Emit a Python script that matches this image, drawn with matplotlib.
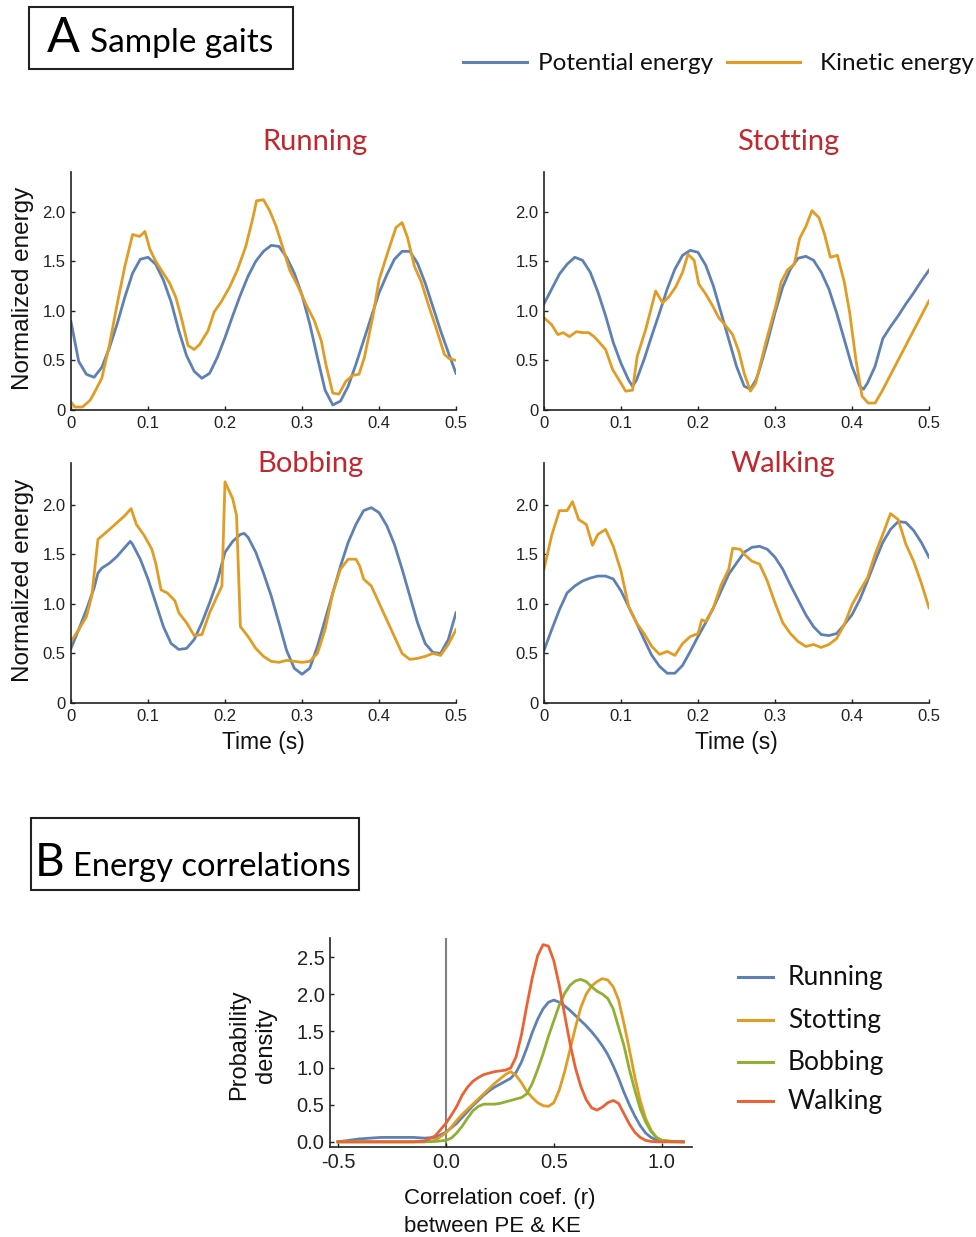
import matplotlib
matplotlib.use('Agg')
import matplotlib.pyplot as plt
from matplotlib.patches import Rectangle
from matplotlib.lines import Line2D

# ---------------- DATA ----------------
# Panel A: normalized energies vs time (s)
run_pe_t = [0,0.01,0.02,0.03,0.04,0.05,0.06,0.07,0.08,0.09,0.10,0.11,0.12,0.13,0.14,0.15,0.16,0.17,0.18,0.19,0.20,
            0.21,0.22,0.23,0.24,0.25,0.26,0.27,0.28,0.29,0.30,0.31,0.32,0.33,0.34,0.35,0.36,0.37,0.38,0.39,0.40,
            0.41,0.42,0.43,0.44,0.45,0.46,0.47,0.48,0.49,0.50]
run_pe_v = [0.89,0.49,0.36,0.33,0.43,0.63,0.87,1.14,1.38,1.52,1.54,1.47,1.31,1.09,0.80,0.55,0.39,0.32,0.37,0.53,0.73,
            0.95,1.16,1.35,1.50,1.60,1.66,1.65,1.54,1.38,1.16,0.87,0.53,0.20,0.05,0.09,0.24,0.46,0.70,0.94,1.18,
            1.36,1.52,1.60,1.60,1.48,1.28,1.04,0.80,0.58,0.37]
run_ke_t = [0,0.005,0.015,0.025,0.03,0.04,0.05,0.06,0.07,0.08,0.089,0.096,0.1025,0.11,0.128,0.136,0.143,0.152,0.16,
            0.167,0.178,0.186,0.195,0.206,0.216,0.227,0.236,0.241,0.25,0.258,0.266,0.275,0.284,0.294,0.305,0.316,
            0.325,0.331,0.34,0.348,0.357,0.366,0.374,0.381,0.392,0.40,0.411,0.422,0.43,0.437,0.446,0.455,0.465,
            0.474,0.485,0.491,0.50]
run_ke_v = [0.08,0.03,0.03,0.10,0.17,0.32,0.66,1.07,1.45,1.77,1.75,1.80,1.62,1.50,1.28,1.14,0.94,0.65,0.61,
            0.66,0.80,0.99,1.09,1.24,1.41,1.65,1.93,2.11,2.12,2.01,1.86,1.64,1.41,1.26,1.07,0.90,
            0.70,0.46,0.17,0.16,0.29,0.35,0.36,0.53,0.94,1.31,1.58,1.84,1.89,1.74,1.45,1.29,1.04,
            0.83,0.56,0.52,0.50]

stot_pe_t = [0,0.01,0.02,0.03,0.04,0.05,0.06,0.07,0.08,0.09,0.10,0.11,0.115,0.12,0.13,0.14,0.15,0.16,0.17,0.18,0.19,
             0.20,0.21,0.22,0.23,0.24,0.25,0.26,0.268,0.275,0.28,0.29,0.30,0.31,0.32,0.33,0.34,0.35,0.36,0.37,0.38,
             0.39,0.40,0.41,0.415,0.42,0.43,0.44,0.45,0.46,0.47,0.48,0.49,0.50]
stot_pe_v = [1.07,1.22,1.37,1.47,1.54,1.51,1.39,1.19,0.95,0.68,0.47,0.30,0.24,0.30,0.51,0.75,0.98,1.22,1.42,1.56,1.61,
             1.59,1.46,1.25,0.98,0.71,0.44,0.24,0.21,0.30,0.41,0.68,0.98,1.24,1.42,1.53,1.55,1.51,1.39,1.22,0.98,
             0.71,0.44,0.24,0.21,0.27,0.44,0.72,0.84,0.95,1.07,1.18,1.30,1.41]
stot_ke_t = [0,0.01,0.018,0.025,0.033,0.042,0.05,0.058,0.065,0.071,0.08,0.089,0.10,0.106,0.115,0.121,0.132,0.139,0.145,
             0.154,0.162,0.171,0.18,0.187,0.195,0.201,0.21,0.219,0.227,0.236,0.245,0.253,0.26,0.268,0.275,0.288,
             0.301,0.308,0.316,0.325,0.332,0.34,0.348,0.357,0.364,0.372,0.381,0.39,0.397,0.405,0.413,0.421,0.43,
             0.439,0.50]
stot_ke_v = [0.93,0.86,0.76,0.78,0.74,0.79,0.78,0.78,0.74,0.69,0.61,0.41,0.27,0.19,0.20,0.54,0.81,1.02,1.20,
             1.08,1.14,1.24,1.39,1.57,1.51,1.27,1.17,1.05,0.93,0.85,0.76,0.59,0.37,0.19,0.27,0.68,
             1.05,1.29,1.41,1.47,1.73,1.85,2.01,1.94,1.78,1.54,1.56,1.29,0.98,0.51,0.14,0.07,0.07,
             0.19,1.10]

bob_pe_t = [0,0.01,0.02,0.03,0.035,0.04,0.05,0.06,0.07,0.077,0.08,0.09,0.10,0.11,0.12,0.13,0.14,0.15,0.16,0.17,0.18,
            0.19,0.20,0.21,0.22,0.225,0.23,0.24,0.25,0.26,0.27,0.28,0.29,0.30,0.31,0.32,0.33,0.34,0.35,0.36,0.37,
            0.38,0.39,0.40,0.41,0.42,0.43,0.44,0.45,0.46,0.47,0.48,0.49,0.50]
bob_pe_v = [0.55,0.74,0.94,1.16,1.31,1.36,1.41,1.48,1.57,1.63,1.60,1.45,1.25,1.01,0.77,0.60,0.54,0.55,0.64,0.81,1.01,
            1.23,1.52,1.63,1.70,1.71,1.67,1.52,1.31,1.08,0.81,0.53,0.35,0.29,0.35,0.57,0.84,1.11,1.38,1.62,1.80,
            1.94,1.97,1.92,1.79,1.60,1.35,1.08,0.81,0.60,0.51,0.50,0.64,0.91]
bob_ke_t = [0,0.01,0.02,0.027,0.035,0.05,0.06,0.07,0.078,0.085,0.095,0.105,0.11,0.117,0.125,0.135,0.14,0.15,0.16,
            0.17,0.18,0.19,0.196,0.20,0.21,0.215,0.22,0.23,0.24,0.25,0.26,0.27,0.28,0.29,0.30,0.31,0.32,0.33,
            0.34,0.35,0.36,0.37,0.375,0.38,0.39,0.40,0.41,0.42,0.43,0.44,0.45,0.46,0.47,0.48,0.49,0.50]
bob_ke_v = [0.62,0.74,0.87,1.08,1.65,1.75,1.82,1.89,1.96,1.80,1.69,1.55,1.41,1.14,1.11,1.03,0.91,0.81,0.68,
            0.69,0.91,1.08,1.18,2.23,2.06,1.89,0.77,0.67,0.55,0.47,0.42,0.41,0.43,0.42,0.41,0.42,0.50,0.74,
            1.11,1.35,1.45,1.45,1.38,1.25,1.18,1.01,0.84,0.67,0.50,0.44,0.45,0.47,0.50,0.48,0.59,0.74]

walk_pe_t = run_pe_t
walk_pe_v = [0.53,0.74,0.94,1.11,1.18,1.23,1.26,1.28,1.28,1.25,1.13,0.97,0.81,0.64,0.48,0.37,0.30,0.30,0.38,0.52,0.67,
             0.81,0.96,1.13,1.30,1.41,1.52,1.57,1.58,1.55,1.47,1.35,1.19,1.04,0.89,0.77,0.69,0.68,0.70,0.79,0.89,
             1.04,1.23,1.43,1.62,1.75,1.83,1.82,1.74,1.62,1.47]
walk_ke_t = [0,0.01,0.02,0.03,0.037,0.045,0.055,0.063,0.07,0.08,0.09,0.10,0.11,0.12,0.13,0.14,0.15,0.16,0.17,0.18,
             0.19,0.20,0.205,0.21,0.22,0.23,0.24,0.245,0.255,0.26,0.27,0.28,0.29,0.30,0.31,0.32,0.33,0.34,0.35,
             0.36,0.37,0.38,0.39,0.40,0.41,0.42,0.43,0.44,0.45,0.46,0.47,0.48,0.49,0.50]
walk_ke_v = [1.35,1.69,1.94,1.94,2.03,1.85,1.80,1.59,1.70,1.75,1.58,1.33,0.97,0.81,0.70,0.57,0.49,0.52,0.48,0.60,
             0.67,0.70,0.84,0.82,0.96,1.19,1.35,1.56,1.55,1.50,1.43,1.40,1.23,1.01,0.81,0.70,0.62,0.57,0.59,
             0.56,0.59,0.65,0.79,0.99,1.13,1.26,1.50,1.70,1.91,1.85,1.60,1.43,1.21,0.96]

gait_titles = ['Running', 'Stotting', 'Bobbing', 'Walking']
energy_labels = ['Potential energy', 'Kinetic energy']
a_xticks = [0, 0.1, 0.2, 0.3, 0.4, 0.5]
a_xticklabels = ['0', '0.1', '0.2', '0.3', '0.4', '0.5']
a_yticks = [0, 0.5, 1.0, 1.5, 2.0]
a_yticklabels = ['0', '0.5', '1.0', '1.5', '2.0']

# Panel B: probability density of correlation coefficient
r_grid = [-0.5,-0.45,-0.4,-0.35,-0.3,-0.25,-0.2,-0.15,-0.1,-0.05,
          0.0,0.025,0.05,0.075,0.1,0.125,0.15,0.175,0.2,0.225,0.25,0.275,0.3,0.325,0.35,0.375,0.4,0.425,0.45,0.475,
          0.5,0.525,0.55,0.575,0.6,0.625,0.65,0.675,0.7,0.725,0.75,0.775,0.8,0.825,0.85,0.875,0.9,0.925,0.95,0.975,
          1.0,1.05,1.1]
dens_running = [0.0,0.02,0.04,0.05,0.06,0.06,0.06,0.06,0.05,0.06,
                0.13,0.19,0.25,0.33,0.41,0.49,0.56,0.63,0.69,0.74,0.78,0.82,0.86,0.94,1.08,1.27,1.48,1.66,1.80,1.89,
                1.92,1.89,1.84,1.78,1.71,1.64,1.57,1.49,1.40,1.30,1.18,1.03,0.86,0.67,0.50,0.35,0.22,0.12,0.06,0.025,
                0.01,0.0,0.0]
dens_stotting = [0.0,0.0,0.0,0.0,0.0,0.0,0.0,0.0,0.0,0.02,
                 0.12,0.20,0.29,0.37,0.44,0.51,0.58,0.65,0.72,0.79,0.85,0.91,0.95,0.90,0.80,0.68,0.60,0.53,0.49,0.48,
                 0.53,0.70,0.95,1.25,1.55,1.82,2.00,2.11,2.17,2.21,2.19,2.10,1.92,1.60,1.25,0.88,0.56,0.32,0.16,0.06,
                 0.02,0.005,0.0]
dens_bobbing = [0.0,0.0,0.0,0.0,0.0,0.0,0.0,0.0,0.0,0.005,
                0.02,0.05,0.12,0.21,0.32,0.42,0.48,0.51,0.51,0.51,0.52,0.54,0.56,0.58,0.60,0.65,0.79,0.98,1.19,1.43,
                1.64,1.85,2.01,2.12,2.18,2.20,2.17,2.10,2.04,2.00,1.94,1.80,1.55,1.30,0.98,0.70,0.45,0.27,0.14,0.06,
                0.02,0.005,0.0]
dens_walking = [0.0,0.0,0.0,0.0,0.0,0.0,0.0,0.0,0.01,0.08,
                0.25,0.36,0.48,0.63,0.74,0.82,0.87,0.91,0.93,0.95,0.96,0.97,1.00,1.15,1.45,1.85,2.22,2.52,2.67,2.65,
                2.45,2.12,1.72,1.33,1.00,0.75,0.57,0.46,0.43,0.47,0.53,0.56,0.52,0.38,0.24,0.13,0.06,0.02,0.005,0.0,
                0.0,0.0,0.0]
b_labels = ['Running', 'Stotting', 'Bobbing', 'Walking']
b_xticks = [-0.5, 0.0, 0.5, 1.0]
b_xticklabels = ['-0.5', '0.0', '0.5', '1.0']
b_yticks = [0.0, 0.5, 1.0, 1.5, 2.0, 2.5]
b_yticklabels = ['0.0', '0.5', '1.0', '1.5', '2.0', '2.5']

# ---------------- STYLE ----------------
W, H = 976, 1237
BLUE = '#5E81B5'; ORANGE = '#E19C24'; GREEN = '#8FB032'; RED = '#EB6235'
TITLE_RED = '#C1272D'
TF = ['Lato', 'DejaVu Sans']
AF = ['Liberation Sans', 'DejaVu Sans']
plt.rcParams['font.family'] = AF

fig = plt.figure(figsize=(W / 100, H / 100), dpi=100)

def fx(x): return x / W
def fy(y): return 1 - y / H

def make_ax(l, t, r, b, lsize):
    ax = fig.add_axes([fx(l), fy(b), (r - l) / W, (b - t) / H])
    for s in ['top', 'right']:
        ax.spines[s].set_visible(False)
    for s in ['left', 'bottom']:
        ax.spines[s].set_color('#222222')
        ax.spines[s].set_linewidth(1.2)
    ax.tick_params(direction='in', length=3, width=1, labelsize=lsize, pad=4, colors='#222222')
    return ax

boxes = [(71, 172, 456, 410, 2.4), (544, 172, 929, 410, 2.4),
         (71, 463, 456, 703, 2.42), (544, 463, 929, 703, 2.42)]
series = [(run_pe_t, run_pe_v, run_ke_t, run_ke_v),
          (stot_pe_t, stot_pe_v, stot_ke_t, stot_ke_v),
          (bob_pe_t, bob_pe_v, bob_ke_t, bob_ke_v),
          (walk_pe_t, walk_pe_v, walk_ke_t, walk_ke_v)]
title_pos = [(315, 150), (788, 150), (310, 472), (783, 472)]

for i, ((l, t, r, b, ytop), (pt, pv, kt, kv)) in enumerate(zip(boxes, series)):
    ax = make_ax(l, t, r, b, 12)
    ax.plot(pt, pv, color=BLUE, lw=2.0, solid_joinstyle='round')
    ax.plot(kt, kv, color=ORANGE, lw=2.0, solid_joinstyle='round')
    ax.set_xlim(0, 0.5)
    ax.set_ylim(0, ytop)
    ax.set_xticks(a_xticks)
    ax.set_xticklabels(a_xticklabels)
    ax.set_yticks(a_yticks)
    ax.set_yticklabels(a_yticklabels)
    if i % 2 == 0:
        ax.set_ylabel('Normalized energy', fontsize=17.5, color='#111111')
        ax.yaxis.set_label_coords((34 - l) / (r - l), 0.51)
    if i >= 2:
        ax.set_xlabel('Time (s)', fontsize=16.5, color='#111111')
        ax.xaxis.set_label_coords(0.5, (b - 731) / (b - t))
    fig.text(fx(title_pos[i][0]), fy(title_pos[i][1]), gait_titles[i], color=TITLE_RED,
             fontsize=21, family=TF, ha='center', va='baseline')

# Top legend
fig.add_artist(Line2D([fx(463), fx(527)], [fy(62), fy(62)], color=BLUE, lw=2.2))
fig.text(fx(538), fy(70), energy_labels[0], fontsize=17.5, family=TF, ha='left', va='baseline', color='#111111')
fig.add_artist(Line2D([fx(727), fx(800)], [fy(62), fy(62)], color=ORANGE, lw=2.2))
fig.text(fx(820), fy(70), energy_labels[1], fontsize=17.5, family=TF, ha='left', va='baseline', color='#111111')

# Section boxes
fig.add_artist(Rectangle((fx(29), fy(69)), (293 - 29) / W, (69 - 7) / H, transform=fig.transFigure,
                         fill=False, edgecolor='#222222', lw=1.5))
fig.text(fx(47), fy(52), 'A', fontsize=35, family=TF, ha='left', va='baseline', color='black')
fig.text(fx(90), fy(52), 'Sample gaits', fontsize=24, family=TF, ha='left', va='baseline', color='black')

fig.add_artist(Rectangle((fx(31), fy(890)), (359 - 31) / W, (890 - 818) / H, transform=fig.transFigure,
                         fill=False, edgecolor='#222222', lw=1.5))
fig.text(fx(35), fy(876), 'B', fontsize=33, family=TF, ha='left', va='baseline', color='black')
fig.text(fx(73), fy(876), 'Energy correlations', fontsize=23.5, family=TF, ha='left', va='baseline', color='black')

# Panel B
axb = make_ax(330, 938, 692, 1147, 14.5)
axb.axvline(0, color='#808080', lw=1.5, zorder=1)
dens = [dens_running, dens_stotting, dens_bobbing, dens_walking]
cols = [BLUE, ORANGE, GREEN, RED]
for d, c in zip(dens, cols):
    axb.plot(r_grid, d, color=c, lw=2.0, solid_joinstyle='round', zorder=3)
axb.set_xlim(-0.537, 1.14)
axb.set_ylim(-0.07, 2.76)
axb.set_xticks(b_xticks)
axb.set_xticklabels(b_xticklabels)
axb.set_yticks(b_yticks)
axb.set_yticklabels(b_yticklabels)
fig.text(fx(404), fy(1204), 'Correlation coef. (r)', fontsize=16, ha='left', va='baseline', color='#111111')
fig.text(fx(404), fy(1232), 'between PE & KE', fontsize=16, ha='left', va='baseline', color='#111111')
fig.text(fx(239), fy(1045), 'Probability', fontsize=17, rotation=90, ha='center', va='center', color='#111111')
fig.text(fx(266), fy(1045), 'density', fontsize=17, rotation=90, ha='center', va='center', color='#111111')

leg_y = [977, 1020, 1062, 1101]
for lab, c, y in zip(b_labels, cols, leg_y):
    fig.add_artist(Line2D([fx(738), fx(773)], [fy(y), fy(y)], color=c, lw=2.2))
    fig.text(fx(788), fy(y + 8), lab, fontsize=19, family=TF, ha='left', va='baseline', color='#111111')

fig.savefig('out.png', dpi=100)
